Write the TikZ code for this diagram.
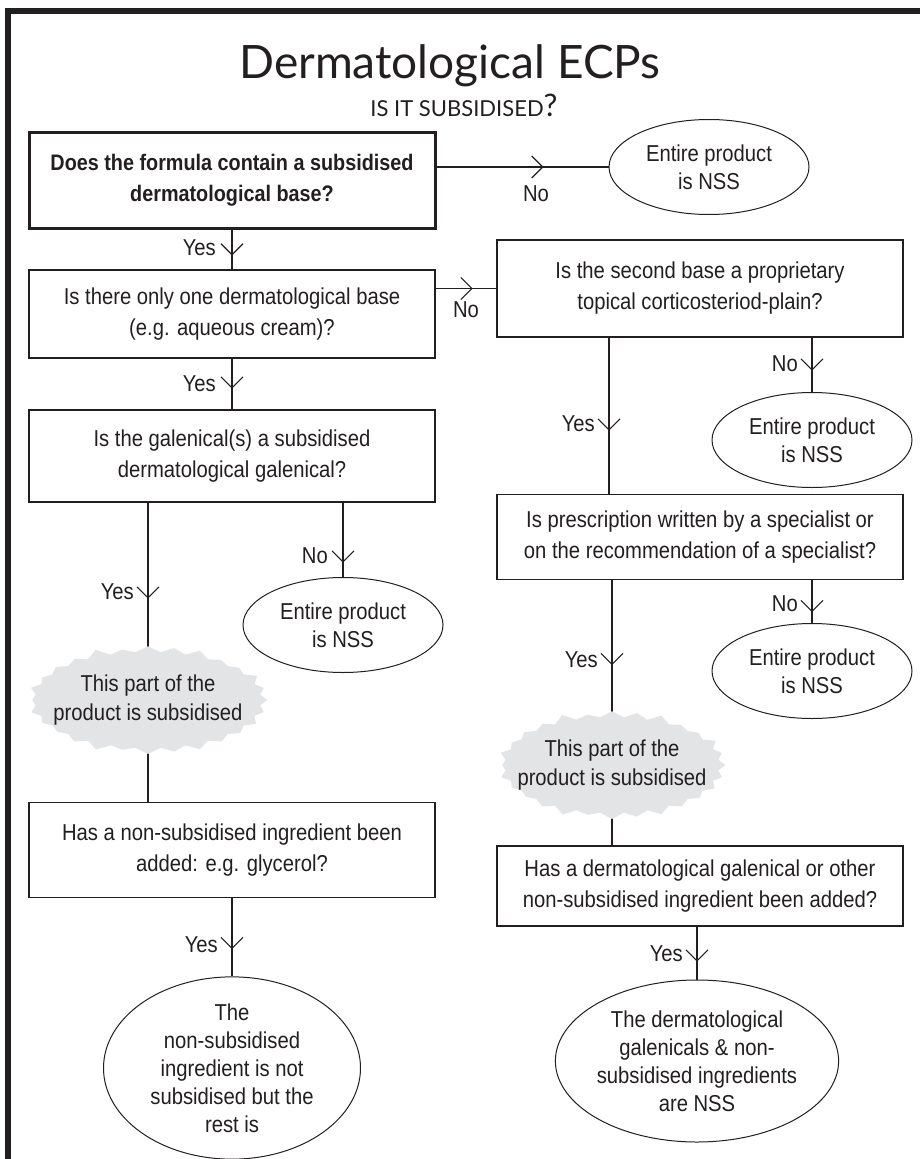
\documentclass[tikz,border=0pt]{standalone}
\usepackage{fontspec}
\setmainfont{Liberation Sans}[FakeStretch=0.88]
\newfontfamily\titlefont{Lato}
\usetikzlibrary{shapes.geometric,shapes.symbols,arrows.meta,decorations.markings,backgrounds}
\definecolor{ink}{HTML}{231F20}
\definecolor{burstgray}{HTML}{E3E4E5}
\tikzset{
 box/.style={draw=ink, line width=1.2pt, minimum width=406pt, align=center, inner sep=0pt, text=ink, font=\fontsize{23}{31}\selectfont},
 oval/.style={ellipse, draw=ink, line width=1pt, align=center, inner sep=0pt, fill=white, text=ink},
 burst/.style={starburst, fill=burstgray, draw=none, align=center, inner xsep=-40pt, inner ysep=-12pt, starburst points=28, starburst point height=8pt, text=ink, font=\fontsize{23}{29}\selectfont},
 conn/.style={draw=ink, line width=1.1pt},
 chev/.style={postaction={decorate, decoration={markings, mark=at position #1 with {\arrow{Straight Barb[length=11pt,width=22pt,line width=1.1pt]}}}}},
 lbl/.style={inner sep=0pt, text=ink},
}
\begin{document}
\begin{tikzpicture}[x=1pt, y=-1pt, font=\fontsize{23}{28}\selectfont]
\useasboundingbox (0,0) rectangle (920,1159);
\begin{scope}[on background layer]
\fill[white] (0,0) rectangle (920,1159);
\end{scope}
% frame
\draw[ink, line width=6pt, line join=miter] (8,1170) -- (8,11) -- (930,11);
% titles
\node[text=ink, anchor=base] (title) at (450,78) {\titlefont\fontsize{46}{50}\selectfont Dermatological ECPs};
\node[text=ink, anchor=base] (subtitle) at (464,116) {\titlefont{\fontsize{22}{24}\selectfont IS IT SUBSIDISED}{\fontsize{31}{31}\selectfont ?}};
% boxes
\node[box, line width=3pt, minimum height=96pt, font=\bfseries\fontsize{22.5}{31}\selectfont] (b1) at (232,180) {Does the formula contain a subsidised\\dermatological base?};
\node[box, minimum height=88pt] (b2) at (232,314) {Is there only one dermatological base\\(e.g. aqueous cream)?};
\node[box, minimum height=97pt] (b3) at (700,288.5) {Is the second base a proprietary\\topical corticosteriod-plain?};
\node[box, minimum height=92pt] (b4) at (232,456) {Is the galenical(s) a subsidised\\dermatological galenical?};
\node[box, minimum height=85pt] (b5) at (700,537) {Is prescription written by a specialist or\\on the recommendation of a specialist?};
\node[box, minimum height=95pt] (b6) at (232,850) {Has a non-subsidised ingredient been\\added: e.g. glycerol?};
\node[box, minimum height=80pt] (b7) at (700,886) {Has a dermatological galenical or other\\non-subsidised ingredient been added?};
% ellipses
\node[oval, minimum width=200pt, minimum height=95pt] (e1) at (709,167) {Entire product\\is NSS};
\node[oval, minimum width=200pt, minimum height=95pt] (e2) at (812,440) {Entire product\\is NSS};
\node[oval, minimum width=200pt, minimum height=95pt] (e3) at (343,625) {Entire product\\is NSS};
\node[oval, minimum width=200pt, minimum height=95pt] (e5) at (812,671) {Entire product\\is NSS};
\node[oval, minimum width=257pt, minimum height=162pt] (e4) at (232,1068) {The\\non-subsidised\\ingredient is not\\subsidised but the\\rest is};
\node[oval, minimum width=258pt, minimum height=162pt] (e6) at (697,1061) {The dermatological\\galenicals \& non-\\subsidised ingredients\\are NSS};
% starbursts
\node[burst, minimum width=242pt, minimum height=112pt] (s1) at (148,700) {This part of the\\product is subsidised};
\node[burst, minimum width=230pt, minimum height=112pt] (s2) at (612,765) {This part of the\\product is subsidised};
% connectors
\draw[conn, chev=107pt] (b1.east |- e1.west) -- (e1.west);
\draw[conn, chev=26pt] (b1.south) -- (b2.north);
\draw[conn, chev=37pt] (b2.east |- b3.west) -- (b3.west);
\draw[conn, chev=30pt] (b2.south) -- (b4.north);
\draw[conn, chev=33pt] (b3.south -| e2.north) -- (e2.north);
\draw[conn, chev=93pt] ([xshift=-91pt]b3.south) -- ([xshift=-91pt]b5.north);
\draw[conn, chev=60pt] (b4.south -| e3.north) -- (e3.north);
\draw[conn, chev=32pt] (b5.south -| e5.north) -- (e5.north);
\draw[conn, chev=51pt] (b6.south) -- (e4.north);
\draw[conn, chev=35pt] (b7.south -| e6.north) -- (e6.north);
\begin{scope}[on background layer]
\draw[conn, chev=96pt] ([xshift=-84pt]b4.south) -- (s1.center);
\draw[conn] (s1.center) -- (s1.center |- b6.north);
\draw[conn, chev=85pt] ([xshift=-88pt]b5.south) -- (s2.center);
\draw[conn] (s2.center) -- (s2.center |- b7.north);
\end{scope}
% labels
\node[lbl] (no1) at (536,194) {No};
\node[lbl, anchor=east] (yes1) at (216,248) {Yes};
\node[lbl] (no2) at (466,310) {No};
\node[lbl, anchor=east] (yes2) at (216,384) {Yes};
\node[lbl, anchor=east] (no3) at (798,364) {No};
\node[lbl, anchor=east] (yes3) at (595,424) {Yes};
\node[lbl, anchor=east] (no4) at (328,556) {No};
\node[lbl, anchor=east] (yes4) at (134,592) {Yes};
\node[lbl, anchor=east] (no5) at (798,604) {No};
\node[lbl, anchor=east] (yes5) at (598,660) {Yes};
\node[lbl, anchor=east] (yes6) at (218,945) {Yes};
\node[lbl, anchor=east] (yes7) at (683,954) {Yes};
\end{tikzpicture}
\end{document}
